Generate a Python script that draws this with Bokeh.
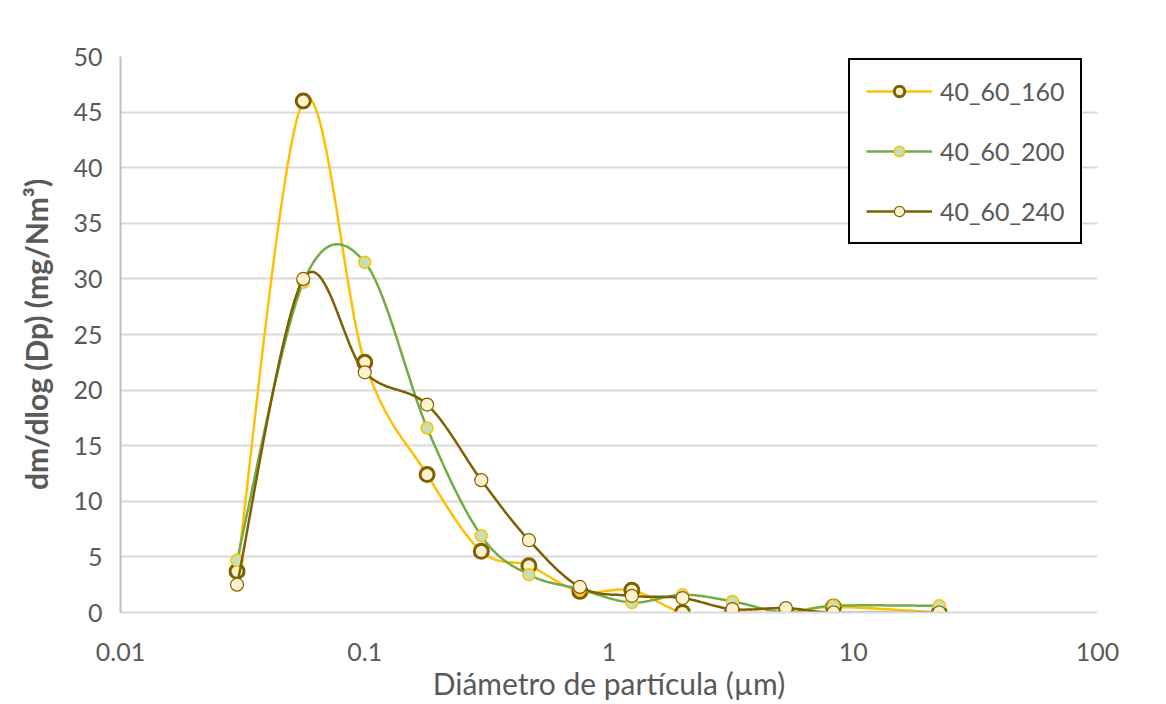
import numpy as np
from bokeh.plotting import figure
from bokeh.models import (FixedTicker, NumeralTickFormatter, Legend, LegendItem, Range1d)
from bokeh.embed import file_html
from bokeh.resources import INLINE

# ---- data ----
diam = [0.030, 0.056, 0.10, 0.18, 0.30, 0.47, 0.76, 1.24, 2.0, 3.2, 5.3, 8.3, 22.5]
s160 = [3.7, 46.0, 22.5, 12.4, 5.5, 4.2, 1.9, 2.0, 0.0, 0.0, 0.0, 0.5, 0.0]
s200 = [4.7, 29.7, 31.5, 16.6, 6.9, 3.4, 2.1, 0.9, 1.6, 1.0, 0.0, 0.6, 0.6]
s240 = [2.5, 30.0, 21.6, 18.7, 11.9, 6.5, 2.3, 1.5, 1.3, 0.3, 0.4, 0.0, 0.0]
names = ["40_60_160", "40_60_200", "40_60_240"]
x_ticks = [0.01, 0.1, 1, 10, 100]
y_ticks = [0, 5, 10, 15, 20, 25, 30, 35, 40, 45, 50]

FONT = "Lato"
GRAY = "#595959"

FW, FH = 977, 556
PX_DEC = FW / 4.0          # pixels per decade
PX_UNIT = FH / 50.0        # pixels per y unit


def smooth(xs, ys, n=24):
    # Excel-like smoothed line: Catmull-Rom Bezier in screen space
    P = np.column_stack([np.log10(xs) * PX_DEC, np.array(ys) * PX_UNIT])
    m = len(P)
    outx, outy = [], []
    for i in range(m - 1):
        p0 = P[i - 1] if i > 0 else P[i]
        p1 = P[i]
        p2 = P[i + 1]
        p3 = P[i + 2] if i + 2 < m else P[i + 1]
        c1 = p1 + (p2 - p0) / 6.0
        c2 = p2 - (p3 - p1) / 6.0
        t = np.linspace(0, 1, n, endpoint=(i == m - 2))[:, None]
        b = ((1 - t) ** 3) * p1 + 3 * ((1 - t) ** 2) * t * c1 + 3 * (1 - t) * t ** 2 * c2 + t ** 3 * p2
        outx.extend(b[:, 0])
        outy.extend(b[:, 1])
    return [10 ** (v / PX_DEC) for v in outx], [v / PX_UNIT for v in outy]


p = figure(x_axis_type="log", frame_width=FW, frame_height=FH,
           x_range=Range1d(0.01, 100), y_range=Range1d(0, 50),
           output_backend="svg", toolbar_location=None,
           min_border_left=120, min_border_right=69, min_border_top=56, min_border_bottom=92)
p.outline_line_color = None
p.background_fill_color = "white"
p.border_fill_color = "white"

p.xgrid.grid_line_color = None
p.ygrid.grid_line_color = "#D9D9D9"
p.ygrid.grid_line_width = 2
p.ygrid.ticker = FixedTicker(ticks=y_ticks)

p.xaxis.ticker = FixedTicker(ticks=x_ticks)
p.xaxis.formatter = NumeralTickFormatter(format="0.[00]")
p.yaxis.ticker = FixedTicker(ticks=y_ticks)
for ax in (p.xaxis[0], p.yaxis[0]):
    ax.major_tick_line_color = None
    ax.minor_tick_line_color = None
    ax.axis_line_color = "#D9D9D9"
    ax.axis_line_width = 2
    ax.major_label_text_font = FONT
    ax.major_label_text_font_size = "25px"
    ax.major_label_text_color = GRAY
    ax.axis_label_text_font = FONT
    ax.axis_label_text_color = GRAY
p.yaxis.axis_line_color = "#BFBFBF"
p.yaxis.major_label_standoff = 12
p.xaxis.major_label_standoff = 24
p.xaxis.axis_label = "Diámetro de partícula (µm)"
p.xaxis.axis_label_standoff = 1
p.xaxis.axis_label_text_font_size = "30px"
p.xaxis.axis_label_text_font_style = "normal"
p.yaxis.axis_label = "dm/dlog (Dp) (mg/Nm³)"
p.yaxis.axis_label_text_font_style = "bold"
p.yaxis.axis_label_text_font_size = "30px"
p.yaxis.axis_label_text_color = "#595959"
p.yaxis.axis_label_standoff = 16

styles = [
    dict(line="#FFC000", fill="#FFF2CC", mline="#7F6000", size=14, mlw=3),
    dict(line="#70AD47", fill="#C5E0B4", mline="#FFC000", size=12, mlw=1.5),
    dict(line="#7F6000", fill="#FFF2CC", mline="#7F6000", size=13, mlw=1.2),
]

items = []
for name, ys, st in zip(names, [s160, s200, s240], styles):
    sx, sy = smooth(diam, ys)
    lr = p.line(sx, sy, line_color=st["line"], line_width=2.5)
    sr = p.scatter(diam, ys, size=st["size"], fill_color=st["fill"],
                   line_color=st["mline"], line_width=st["mlw"])
    items.append(LegendItem(label=name, renderers=[lr, sr]))

legend = Legend(items=items, location=(728, 368))
legend.border_line_color = "black"
legend.border_line_alpha = 1
legend.border_line_width = 2
legend.background_fill_color = "white"
legend.background_fill_alpha = 1
legend.label_text_font = FONT
legend.label_text_font_size = "25px"
legend.label_text_color = GRAY
legend.glyph_width = 66
legend.glyph_height = 26
legend.label_height = 26
legend.label_standoff = 8
legend.spacing = 30
legend.padding = 16
legend.margin = 0
p.add_layout(legend, "center")

open("out.html", "w").write(file_html(p, INLINE))
